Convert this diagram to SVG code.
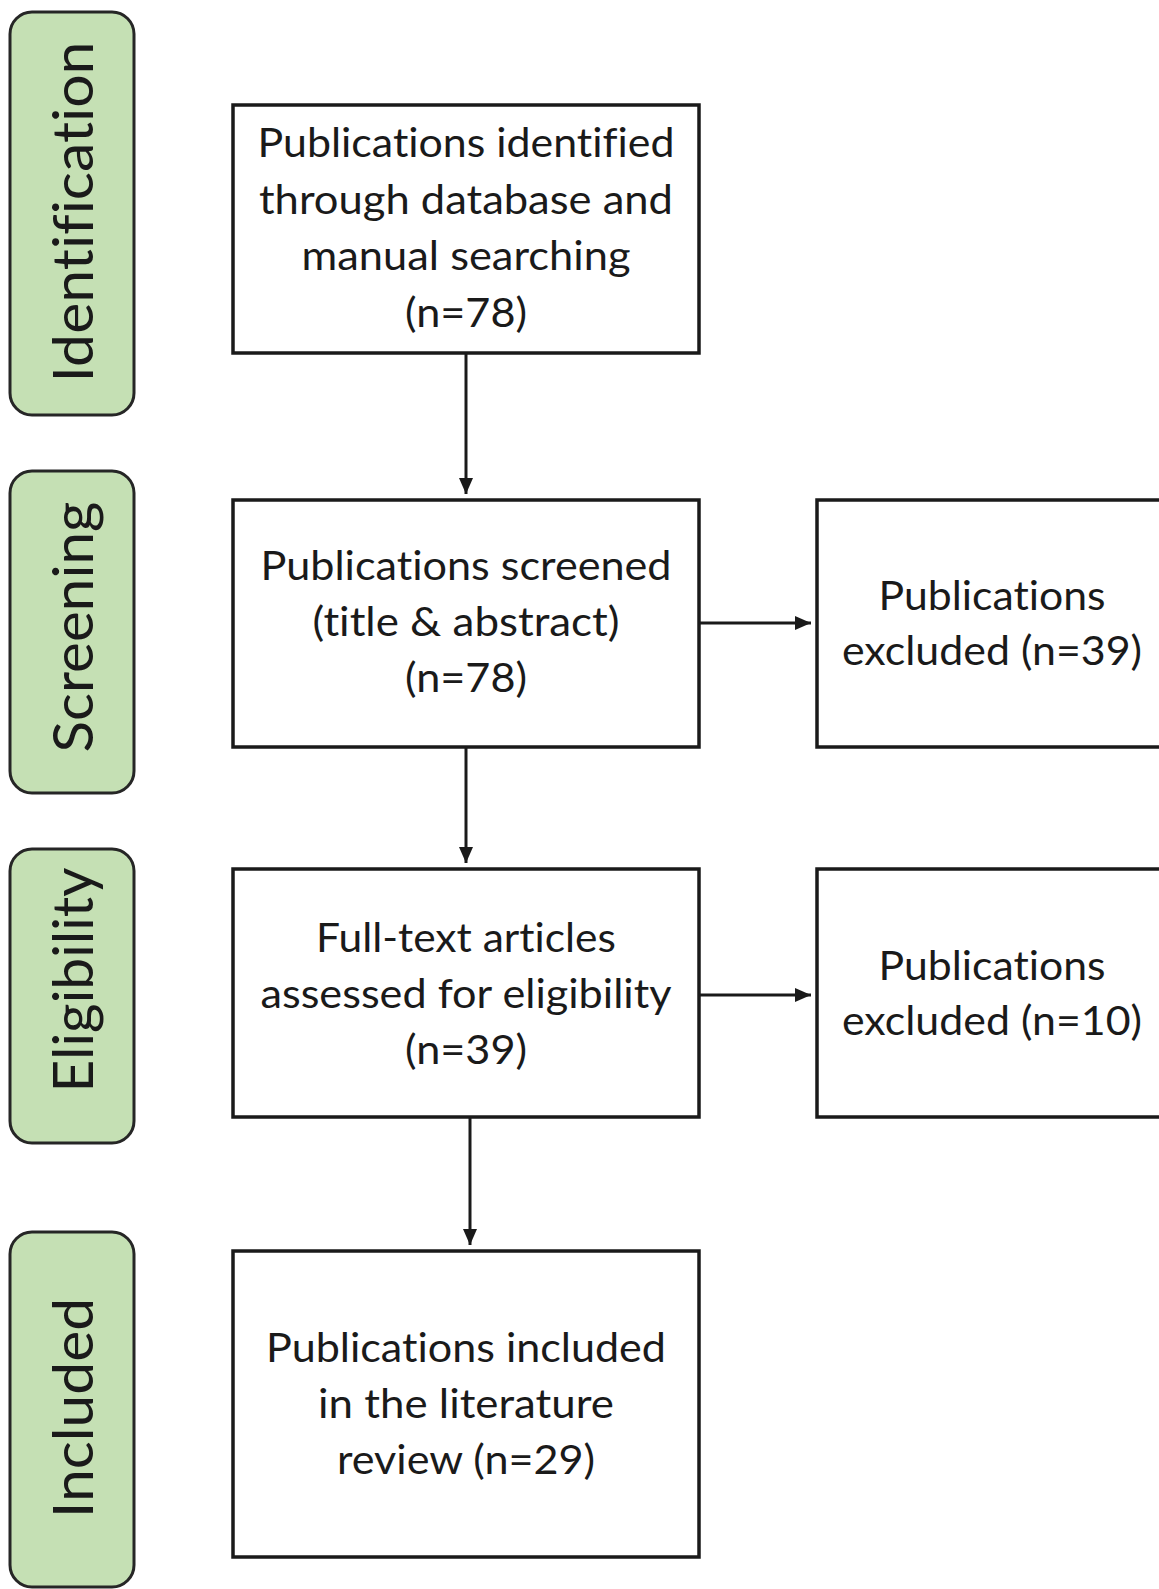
<svg xmlns="http://www.w3.org/2000/svg" width="1159" height="1589" viewBox="0 0 1159 1589">
  <style>
    .pill { fill: #c5e0b4; stroke: #262626; stroke-width: 3; }
    .box { fill: #ffffff; stroke: #1a1a1a; stroke-width: 3.5; }
    .pt { font-family: Lato, "Open Sans", sans-serif; font-size: 57px; fill: #1a1a1a; text-anchor: middle; font-variant-ligatures: none; font-feature-settings: "liga" 0, "dlig" 0; }
    .bt { font-family: Lato, "Open Sans", sans-serif; font-size: 41px; fill: #1a1a1a; text-anchor: middle; font-variant-ligatures: none; font-feature-settings: "liga" 0, "dlig" 0; }
    .conn { stroke: #1a1a1a; stroke-width: 3; fill: none; }
  </style>
  <defs>
    <marker id="arrow" markerUnits="userSpaceOnUse" markerWidth="18" markerHeight="18" viewBox="0 0 18 18" refX="16" refY="9" orient="auto">
      <path d="M0,2 L16,9 L0,16 Z" fill="#1a1a1a"/>
    </marker>
  </defs>
  <rect width="1159" height="1589" fill="#ffffff"/>

  <g id="stage-identification">
    <rect class="pill" x="10" y="12" width="124" height="403" rx="22"/>
    <text class="pt" transform="translate(93,212) rotate(-90)" textLength="341" lengthAdjust="spacingAndGlyphs">Identification</text>
  </g>
  <g id="stage-screening">
    <rect class="pill" x="10" y="471" width="124" height="322" rx="22"/>
    <text class="pt" transform="translate(93,627) rotate(-90)" textLength="251" lengthAdjust="spacingAndGlyphs">Screening</text>
  </g>
  <g id="stage-eligibility">
    <rect class="pill" x="10" y="849" width="124" height="294" rx="22"/>
    <text class="pt" transform="translate(93,980) rotate(-90)" textLength="225" lengthAdjust="spacingAndGlyphs">Eligibility</text>
  </g>
  <g id="stage-included">
    <rect class="pill" x="10" y="1232" width="124" height="355" rx="22"/>
    <text class="pt" transform="translate(93,1408) rotate(-90)" textLength="220" lengthAdjust="spacingAndGlyphs">Included</text>
  </g>

  <g id="box-identified">
    <rect class="box" x="233" y="105" width="466" height="248"/>
    <text class="bt" x="466" y="157" textLength="417" lengthAdjust="spacingAndGlyphs">Publications identified</text>
    <text class="bt" x="466" y="213.5" textLength="414" lengthAdjust="spacingAndGlyphs">through database and</text>
    <text class="bt" x="466" y="270" textLength="329" lengthAdjust="spacingAndGlyphs">manual searching</text>
    <text class="bt" x="466" y="326.5" textLength="122" lengthAdjust="spacingAndGlyphs">(n=78)</text>
  </g>
  <g id="box-screened">
    <rect class="box" x="233" y="500" width="466" height="247"/>
    <text class="bt" x="466" y="580" textLength="411" lengthAdjust="spacingAndGlyphs">Publications screened</text>
    <text class="bt" x="466" y="636" textLength="307" lengthAdjust="spacingAndGlyphs">(title &amp; abstract)</text>
    <text class="bt" x="466" y="692" textLength="122" lengthAdjust="spacingAndGlyphs">(n=78)</text>
  </g>
  <g id="box-excluded-1">
    <rect class="box" x="817" y="500" width="400" height="247"/>
    <text class="bt" x="992" y="610" textLength="227" lengthAdjust="spacingAndGlyphs">Publications</text>
    <text class="bt" x="992" y="665" textLength="300" lengthAdjust="spacingAndGlyphs">excluded (n=39)</text>
  </g>
  <g id="box-fulltext">
    <rect class="box" x="233" y="869" width="466" height="248"/>
    <text class="bt" x="466" y="952" textLength="300" lengthAdjust="spacingAndGlyphs">Full-text articles</text>
    <text class="bt" x="466" y="1008" textLength="411" lengthAdjust="spacingAndGlyphs">assessed for eligibility</text>
    <text class="bt" x="466" y="1064" textLength="122" lengthAdjust="spacingAndGlyphs">(n=39)</text>
  </g>
  <g id="box-excluded-2">
    <rect class="box" x="817" y="869" width="400" height="248"/>
    <text class="bt" x="992" y="980" textLength="227" lengthAdjust="spacingAndGlyphs">Publications</text>
    <text class="bt" x="992" y="1035" textLength="300" lengthAdjust="spacingAndGlyphs">excluded (n=10)</text>
  </g>
  <g id="box-included">
    <rect class="box" x="233" y="1251" width="466" height="306"/>
    <text class="bt" x="466" y="1362" textLength="400" lengthAdjust="spacingAndGlyphs">Publications included</text>
    <text class="bt" x="466" y="1418" textLength="296" lengthAdjust="spacingAndGlyphs">in the literature</text>
    <text class="bt" x="466" y="1474" textLength="258" lengthAdjust="spacingAndGlyphs">review (n=29)</text>
  </g>

  <g id="connectors">
    <line class="conn" x1="466" y1="353" x2="466" y2="494" marker-end="url(#arrow)"/>
    <line class="conn" x1="466" y1="747" x2="466" y2="863" marker-end="url(#arrow)"/>
    <line class="conn" x1="470" y1="1117" x2="470" y2="1245" marker-end="url(#arrow)"/>
    <line class="conn" x1="699" y1="623" x2="811" y2="623" marker-end="url(#arrow)"/>
    <line class="conn" x1="699" y1="995" x2="811" y2="995" marker-end="url(#arrow)"/>
  </g>
</svg>
